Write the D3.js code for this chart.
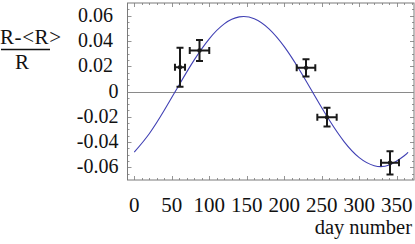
<!DOCTYPE html>
<html>
<head>
<meta charset="utf-8">
<script src="https://cdn.jsdelivr.net/npm/d3@7"></script>
<style>
  body { margin: 0; background: #fff; }
  svg text { font-family: 'Liberation Serif', 'Times New Roman', serif; fill: #111; }
</style>
</head>
<body>
<div id="app"></div>
<script>

// measured points: day, value, day error, value error
var days    = [61, 87, 229, 257, 341];
var values  = [0.0192, 0.0324, 0.0187, -0.0203, -0.0564];
var dayErr  = [6.7, 13, 12.4, 12.9, 12];
var valErr  = [0.0154, 0.0083, 0.0069, 0.0074, 0.0092];

// fitted curve
var curveDays   = [0, 20, 40, 60, 80, 100, 120, 140, 160, 180, 200, 220, 240, 260, 280, 300, 320, 340, 360, 365];
var curveValues = [-0.0480, -0.0334, -0.0149, 0.0054, 0.0250, 0.0417, 0.0535, 0.0590, 0.0576, 0.0494,
                   0.0355, 0.0174, -0.0028, -0.0226, -0.0398, -0.0523, -0.0587, -0.0581, -0.0508, -0.0480];

var xTicks = [0, 50, 100, 150, 200, 250, 300, 350];
var yTicks = [0.06, 0.04, 0.02, 0, -0.02, -0.04, -0.06];

var serif = "'Liberation Serif', 'Times New Roman', serif";

var svg = d3.select("#app")
    .append("svg")
    .attr("width", 415)
    .attr("height", 244);

var x = d3.scaleLinear().domain([-9, 373]).range([127.5, 414]);
var y = d3.scaleLinear().domain([-0.07, 0.07]).range([180, 3]);

var frameColor = "#7a7a7a";

// minor / major ticks, inward on all four sides
var xMinor = d3.range(0, 371, 10);
var yMinor = d3.range(-0.065, 0.0651, 0.005);

svg.selectAll(".xtick")
    .data(xMinor)
    .enter()
    .append("path")
    .attr("d", function (d) {
	var len = (d % 50 === 0) ? 4 : 2;
	var px = Math.round(x(d)) + 0.5;
	return "M" + px + ",180v" + (-len) + "M" + px + ",3v" + len;
    })
    .attr("stroke", frameColor)
    .attr("stroke-width", 0.8);

svg.selectAll(".ytick")
    .data(yMinor)
    .enter()
    .append("path")
    .attr("d", function (d) {
	var major = Math.abs(Math.round(d * 1000) % 20) === 0;
	var len = major ? 4 : 2;
	var py = Math.round(y(d)) + 0.5;
	return "M127.5," + py + "h" + len + "M414," + py + "h" + (-len);
    })
    .attr("stroke", frameColor)
    .attr("stroke-width", 0.8);

// frame
svg.append("rect")
    .attr("x", 127.5)
    .attr("y", 3)
    .attr("width", 286.5)
    .attr("height", 177)
    .attr("fill", "none")
    .attr("stroke", frameColor)
    .attr("stroke-width", 1);

// zero line
svg.append("line")
    .attr("x1", 127.5)
    .attr("x2", 414)
    .attr("y1", Math.round(y(0)) + 0.5)
    .attr("y2", Math.round(y(0)) + 0.5)
    .attr("stroke", "#8a8a8a")
    .attr("stroke-width", 1);

// tick labels
svg.selectAll(".xlabel")
    .data(xTicks)
    .enter()
    .append("text")
    .attr("x", function (d) { return x(d); })
    .attr("y", 212)
    .attr("text-anchor", "middle")
    .style("font-family", serif)
    .style("font-size", "21px")
    .text(function (d) { return d; });

svg.selectAll(".ylabel")
    .data(yTicks)
    .enter()
    .append("text")
    .attr("x", function (d) { return d > 0 ? 113 : 118.5; })
    .attr("y", function (d) { return y(d) + 6; })
    .attr("text-anchor", "end")
    .style("font-family", serif)
    .style("font-size", "20px")
    .text(function (d) { return d === 0 ? "0" : d.toFixed(2); });

svg.append("text")
    .attr("x", 412)
    .attr("y", 234)
    .attr("text-anchor", "end")
    .style("font-family", serif)
    .style("font-size", "20.5px")
    .text("day number");

// y label as a fraction
svg.append("text")
    .attr("x", 0)
    .attr("y", 44)
    .style("font-family", serif)
    .style("font-size", "21px")
    .attr("textLength", 61)
    .text("R-<R>");

svg.append("line")
    .attr("x1", 1)
    .attr("x2", 50)
    .attr("y1", 49.5)
    .attr("y2", 49.5)
    .attr("stroke", "#111")
    .attr("stroke-width", 1.6);

svg.append("text")
    .attr("x", 22)
    .attr("y", 69)
    .attr("text-anchor", "middle")
    .style("font-family", serif)
    .style("font-size", "21px")
    .text("R");

// fitted curve
var line = d3.line()
    .x(function (d) { return x(d[0]); })
    .y(function (d) { return y(d[1]); })
    .curve(d3.curveNatural);

svg.append("path")
    .datum(d3.zip(curveDays, curveValues))
    .attr("d", line)
    .attr("fill", "none")
    .attr("stroke", "#4040b4")
    .attr("stroke-width", 1.1);

// data points with error bars
var pts = days.map(function (d, i) {
    return { day: d, val: values[i], dx: dayErr[i], dy: valErr[i] };
});

var cap = 3.5;

var pg = svg.selectAll(".point")
    .data(pts)
    .enter()
    .append("g")
    .attr("class", "point")
    .attr("stroke", "#1a1a1a")
    .attr("stroke-width", 2)
    .attr("fill", "none");

pg.append("path")
    .attr("d", function (p) {
	var cx = x(p.day), cy = y(p.val);
	var x0 = x(p.day - p.dx), x1 = x(p.day + p.dx);
	var y0 = y(p.val + p.dy), y1 = y(p.val - p.dy);
	return "M" + x0 + "," + cy + "H" + x1 +
	    "M" + x0 + "," + (cy - cap) + "V" + (cy + cap) +
	    "M" + x1 + "," + (cy - cap) + "V" + (cy + cap) +
	    "M" + cx + "," + y0 + "V" + y1 +
	    "M" + (cx - cap) + "," + y0 + "H" + (cx + cap) +
	    "M" + (cx - cap) + "," + y1 + "H" + (cx + cap);
    });

pg.append("circle")
    .attr("cx", function (p) { return x(p.day); })
    .attr("cy", function (p) { return y(p.val); })
    .attr("r", 2.2)
    .attr("fill", "#1a1a1a")
    .attr("stroke", "none");

</script>
</body>
</html>
